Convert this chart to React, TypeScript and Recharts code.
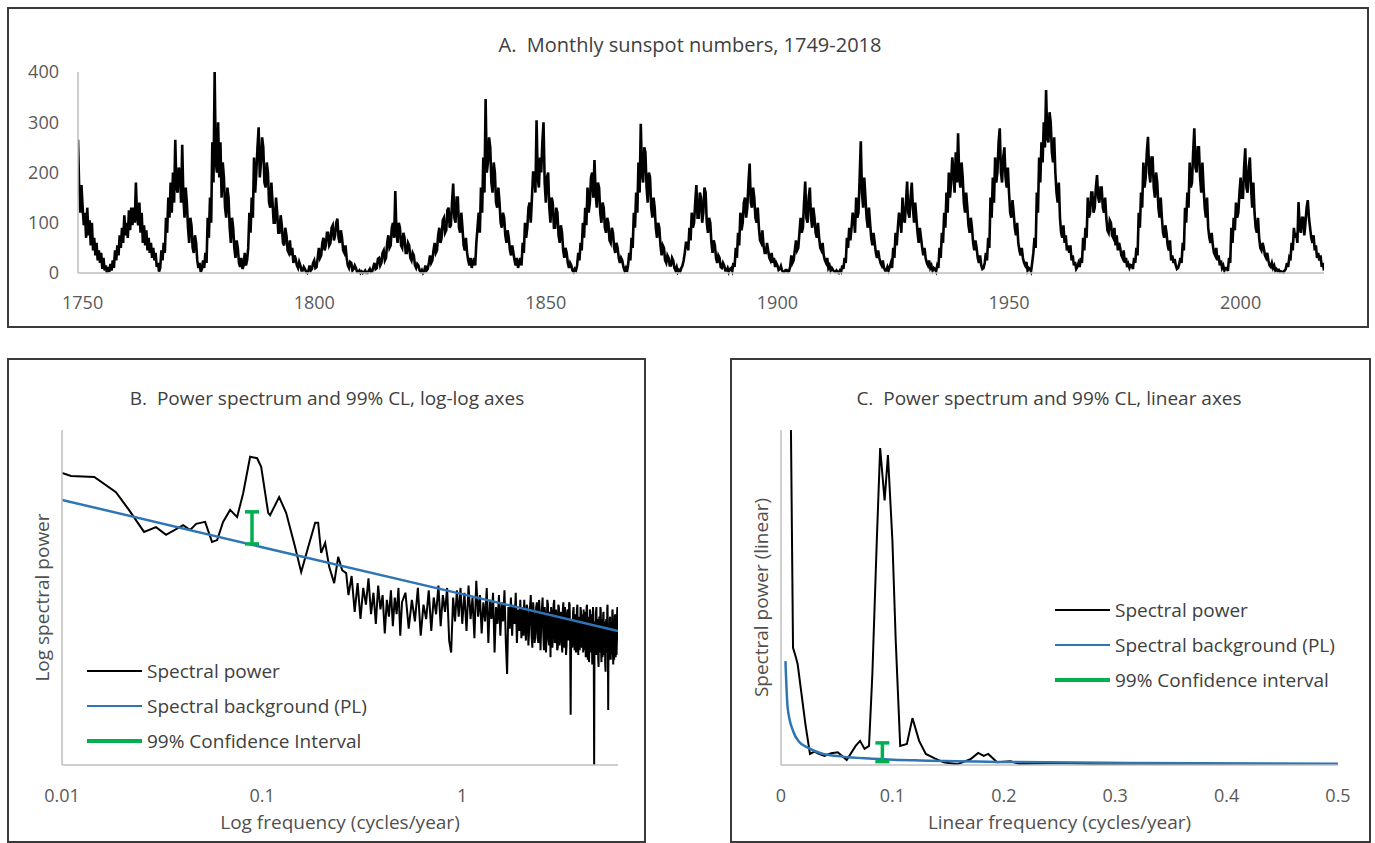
import React from 'react';
import { ComposedChart, LineChart, Line, XAxis, YAxis, Scatter, ErrorBar, Legend } from 'recharts';

// Panel A: monthly sunspot numbers, sampled every quarter year from 1749 (one row = 5 years)
const SUNSPOT_START = 1749;
const SUNSPOT_STEP = 0.25;
const sunspotRows: number[][] = [
  [265, 170, 120, 175, 130, 95, 120, 70, 130, 75, 105, 55, 100, 45, 70, 35, 60, 25, 45, 20],
  [40, 8, 30, 5, 15, 0, 12, 2, 18, 5, 25, 10, 45, 25, 55, 35, 75, 50, 90, 60],
  [115, 75, 100, 70, 125, 85, 130, 95, 130, 100, 180, 110, 95, 140, 80, 120, 60, 95, 55, 85],
  [45, 70, 40, 60, 30, 50, 25, 40, 12, 20, 3, 10, 45, 25, 60, 40, 110, 80, 150, 110],
  [180, 120, 200, 140, 265, 170, 160, 210, 200, 140, 255, 150, 110, 170, 140, 90, 60, 110, 95, 50],
  [40, 75, 60, 25, 10, 20, 2, 8, 25, 10, 40, 20, 110, 70, 150, 100, 260, 180, 400, 220],
  [200, 300, 190, 260, 150, 220, 190, 130, 110, 170, 150, 90, 60, 110, 90, 50, 30, 65, 50, 20],
  [12, 30, 8, 15, 40, 15, 25, 50, 120, 80, 150, 110, 230, 160, 200, 250, 290, 190, 220, 270],
  [250, 180, 170, 220, 200, 140, 130, 180, 140, 100, 100, 150, 120, 80, 80, 115, 95, 60, 55, 90],
  [75, 45, 40, 65, 35, 50, 20, 35, 28, 15, 10, 22, 15, 5, 5, 12, 8, 2, 0, 5],
  [15, 5, 8, 20, 25, 10, 12, 30, 50, 30, 35, 60, 70, 45, 55, 80, 80, 55, 60, 90],
  [95, 65, 75, 100, 108, 70, 60, 85, 70, 45, 40, 55, 30, 15, 10, 22, 20, 5, 8, 15],
  [10, 2, 2, 5, 0, 3, 0, 2, 5, 0, 0, 4, 8, 2, 3, 12, 20, 8, 10, 28],
  [30, 15, 20, 40, 45, 25, 30, 60, 75, 50, 55, 90, 100, 70, 163, 80, 60, 100, 90, 55],
  [50, 80, 70, 40, 40, 60, 55, 30, 25, 40, 35, 15, 10, 18, 15, 5, 2, 6, 0, 3],
  [15, 5, 8, 20, 35, 20, 25, 45, 60, 40, 45, 75, 90, 60, 70, 105, 110, 80, 85, 125],
  [130, 90, 95, 140, 178, 110, 100, 150, 150, 90, 80, 120, 90, 55, 45, 70, 40, 25, 15, 30],
  [10, 20, 30, 15, 60, 90, 120, 80, 170, 120, 230, 160, 346, 200, 220, 270, 250, 180, 160, 220],
  [200, 140, 130, 170, 140, 100, 90, 120, 110, 75, 60, 85, 70, 45, 35, 55, 40, 25, 15, 30],
  [10, 20, 30, 15, 60, 40, 100, 70, 90, 130, 140, 100, 150, 200, 200, 160, 304, 190, 170, 230],
  [200, 260, 300, 180, 140, 190, 200, 130, 100, 150, 140, 90, 90, 130, 120, 75, 60, 95, 80, 45],
  [30, 50, 40, 20, 10, 20, 15, 5, 2, 8, 5, 15, 40, 25, 60, 45, 100, 70, 130, 95],
  [170, 120, 140, 190, 200, 150, 225, 160, 130, 180, 170, 120, 100, 140, 130, 90, 80, 110, 100, 65],
  [60, 90, 80, 50, 40, 60, 50, 30, 20, 30, 25, 12, 5, 10, 2, 15, 40, 25, 70, 50],
  [120, 90, 160, 120, 220, 160, 297, 200, 180, 250, 240, 170, 140, 200, 190, 130, 110, 150, 130, 90],
  [70, 100, 90, 55, 35, 55, 50, 25, 20, 35, 30, 15, 15, 30, 25, 10, 5, 12, 2, 6],
  [3, 10, 15, 25, 40, 60, 60, 45, 90, 65, 120, 90, 100, 140, 175, 110, 110, 160, 150, 100],
  [120, 170, 160, 100, 80, 110, 100, 60, 40, 65, 55, 30, 20, 35, 30, 12, 10, 20, 15, 5],
  [5, 10, 2, 8, 10, 4, 20, 12, 50, 30, 80, 55, 120, 85, 100, 140, 150, 110, 130, 180],
  [218, 140, 130, 170, 150, 110, 100, 130, 90, 65, 60, 85, 55, 40, 40, 60, 45, 30, 25, 40],
  [20, 30, 12, 20, 15, 6, 8, 14, 5, 2, 2, 6, 6, 2, 4, 12, 35, 20, 25, 45],
  [65, 45, 50, 80, 110, 80, 90, 140, 182, 110, 100, 150, 170, 110, 90, 130, 110, 80, 70, 100],
  [70, 50, 45, 60, 35, 25, 20, 30, 10, 15, 5, 10, 6, 3, 2, 5, 2, 0, 5, 2],
  [15, 8, 30, 20, 70, 50, 90, 65, 90, 120, 110, 80, 150, 110, 120, 190, 262, 160, 130, 190],
  [150, 110, 90, 130, 100, 70, 55, 80, 60, 40, 30, 45, 30, 20, 15, 25, 10, 5, 5, 12],
  [5, 12, 20, 10, 50, 30, 80, 55, 90, 120, 110, 80, 150, 110, 100, 140, 182, 120, 110, 150],
  [180, 130, 100, 140, 110, 80, 60, 90, 70, 50, 35, 50, 30, 20, 15, 25, 10, 15, 5, 10],
  [8, 3, 15, 10, 50, 30, 80, 60, 120, 90, 160, 120, 200, 150, 180, 230, 200, 160, 240, 180],
  [278, 190, 170, 220, 190, 140, 120, 160, 130, 95, 80, 110, 90, 60, 45, 65, 50, 30, 20, 35],
  [15, 8, 10, 20, 40, 25, 70, 50, 150, 110, 190, 140, 230, 180, 200, 260, 288, 200, 180, 230],
  [250, 190, 170, 210, 160, 120, 110, 145, 120, 90, 75, 100, 60, 45, 35, 50, 30, 20, 15, 22],
  [5, 10, 8, 3, 20, 40, 70, 50, 160, 120, 230, 180, 260, 220, 300, 250, 364, 270, 260, 320],
  [300, 240, 220, 270, 200, 160, 140, 180, 110, 80, 70, 95, 60, 75, 45, 55, 40, 55, 25, 35],
  [15, 22, 8, 12, 20, 12, 30, 20, 70, 45, 90, 70, 150, 110, 120, 160, 160, 120, 130, 170],
  [195, 150, 140, 170, 170, 130, 120, 150, 110, 85, 80, 105, 100, 75, 70, 90, 55, 75, 45, 60],
  [50, 35, 30, 45, 20, 30, 12, 18, 10, 16, 15, 8, 30, 20, 50, 35, 120, 90, 160, 130],
  [220, 170, 190, 240, 271, 200, 180, 230, 230, 170, 150, 200, 180, 130, 110, 150, 110, 80, 70, 95],
  [80, 55, 45, 65, 25, 35, 20, 28, 15, 8, 10, 18, 30, 20, 60, 45, 130, 100, 160, 130],
  [220, 170, 180, 240, 288, 210, 200, 250, 250, 190, 160, 220, 170, 130, 110, 150, 90, 70, 60, 80],
  [55, 40, 35, 50, 25, 35, 15, 25, 10, 15, 5, 10, 10, 4, 30, 20, 90, 60, 110, 85],
  [140, 110, 120, 160, 190, 150, 150, 210, 248, 170, 160, 210, 230, 170, 130, 180, 120, 90, 80, 110],
  [70, 50, 45, 60, 50, 35, 30, 40, 25, 15, 12, 20, 10, 15, 5, 8, 4, 6, 2, 3],
  [2, 1, 5, 8, 20, 12, 30, 25, 60, 45, 90, 70, 80, 60, 141, 90, 80, 110, 110, 75],
  [100, 130, 145, 110, 90, 70, 60, 75, 45, 55, 30, 40, 25, 35, 12, 20, 5],
];
const sunspotXTicks = [1750, 1800, 1850, 1900, 1950, 2000];
const sunspotYTicks = [0, 100, 200, 300, 400];

// Panel B: [frequency (cycles/yr), log power]
const logSpectrum: [number, number][] = [
  [0.01, 6.1], [0.0111, 6.04], [0.0145, 6.02], [0.0186, 5.7], [0.0216, 5.33], [0.0257, 4.87],
  [0.0295, 4.97], [0.0331, 4.81], [0.0403, 5.01], [0.0437, 4.91], [0.0468, 5.04], [0.0519, 5.08],
  [0.0562, 4.66], [0.0596, 4.7], [0.0638, 5.08], [0.0692, 5.33], [0.075, 5.18], [0.0804, 5.68],
  [0.0871, 6.44], [0.0944, 6.41], [0.0989, 6.23], [0.1072, 5.27], [0.1096, 5.22], [0.1216, 5.6],
  [0.1318, 5.27], [0.1462, 4.55], [0.1567, 4.03], [0.1698, 4.55], [0.1841, 5.06], [0.1905, 5.06],
  [0.1972, 4.43], [0.2065, 4.64], [0.2163, 4.14], [0.2291, 3.8], [0.2399, 4.35], [0.2512, 4.07],
  [0.263, 4.01],
  [0.27, 3.55], [0.28, 3.95], [0.29, 3.2], [0.3, 3.8], [0.31, 3.05], [0.32, 3.7], [0.33, 3.35],
  [0.34, 3.9], [0.35, 3.15], [0.36, 3.6], [0.37, 2.95], [0.38, 3.75], [0.39, 3.25], [0.4, 3.55],
  [0.41, 2.75], [0.42, 3.45], [0.43, 3.1], [0.44, 3.65], [0.45, 2.9], [0.46, 3.5], [0.47, 3.15],
  [0.48, 3.7], [0.49, 2.7], [0.5, 3.4],
  [0.52, 3.6], [0.54, 2.85], [0.56, 3.45], [0.58, 3.0], [0.6, 3.7], [0.62, 2.7], [0.64, 3.35],
  [0.66, 3.05], [0.68, 3.65], [0.7, 2.8], [0.72, 3.5], [0.74, 3.15], [0.76, 3.75], [0.78, 2.9],
  [0.8, 3.55], [0.82, 3.2], [0.84, 3.7], [0.86, 2.6], [0.88, 2.35], [0.9, 3.5], [0.92, 3.0],
  [0.94, 3.65], [0.96, 3.1], [0.98, 3.7], [1.0, 2.95],
  [1.025, 3.6], [1.05, 2.8], [1.075, 3.75], [1.1, 3.05], [1.125, 3.5], [1.15, 2.65], [1.175, 3.85],
  [1.2, 3.1], [1.225, 3.55], [1.25, 2.75], [1.275, 3.4], [1.3, 3.0], [1.325, 3.7], [1.35, 2.55],
  [1.375, 3.45], [1.4, 3.05], [1.425, 3.6], [1.45, 2.35], [1.475, 3.3], [1.5, 2.95], [1.525, 3.55],
  [1.55, 2.7], [1.575, 3.4], [1.6, 3.0], [1.625, 3.65], [1.65, 2.6], [1.675, 1.9], [1.7, 3.3],
  [1.725, 2.85], [1.75, 3.5], [1.775, 2.7], [1.8, 3.35], [1.825, 2.95], [1.85, 3.6], [1.875, 2.55],
  [1.9, 3.25], [1.925, 2.8], [1.95, 3.45], [1.975, 2.65], [2.0, 3.3],
  [2.02, 2.7], [2.04, 3.45], [2.06, 2.9], [2.08, 2.6], [2.1, 3.35], [2.12, 3.25], [2.14, 2.5],
  [2.16, 2.85], [2.18, 3.3], [2.2, 3.55], [2.22, 2.7], [2.24, 2.45], [2.26, 3.4], [2.28, 3.15],
  [2.3, 2.55], [2.32, 2.75], [2.34, 3.3], [2.36, 3.4], [2.38, 2.65], [2.4, 2.55], [2.42, 3.45],
  [2.44, 3.2], [2.46, 2.4], [2.48, 2.9], [2.5, 3.25], [2.52, 3.5], [2.54, 2.75], [2.56, 2.4],
  [2.58, 3.3], [2.6, 3.1], [2.62, 2.35], [2.64, 2.7], [2.66, 3.45], [2.68, 3.35], [2.7, 2.6],
  [2.72, 2.5], [2.74, 3.2], [2.76, 2.25], [2.78, 3.3], [2.8, 3.15], [2.82, 2.45], [2.84, 2.8],
  [2.86, 3.35], [2.88, 3.45], [2.9, 2.55], [2.92, 2.6], [2.94, 3.25], [2.96, 3.05], [2.98, 2.4],
  [3.0, 2.45], [3.02, 3.35], [3.04, 3.3], [3.06, 2.5], [3.08, 2.75], [3.1, 3.2], [3.12, 3.1],
  [3.14, 2.55], [3.16, 2.35], [3.18, 3.25], [3.2, 3.4], [3.22, 2.45], [3.24, 2.65], [3.26, 3.3],
  [3.28, 3.0], [3.3, 2.3], [3.32, 2.5], [3.34, 3.15], [3.36, 3.25], [3.38, 2.6], [3.4, 2.8],
  [3.42, 3.4], [3.44, 3.35], [3.46, 2.55], [3.48, 1.05], [3.5, 2.9], [3.52, 3.05], [3.54, 2.45],
  [3.56, 2.55], [3.58, 3.2], [3.6, 3.3], [3.62, 2.65], [3.64, 2.4], [3.66, 3.15], [3.68, 3.0],
  [3.7, 2.35], [3.72, 2.7], [3.74, 3.25], [3.76, 3.35], [3.78, 2.5], [3.8, 2.3], [3.82, 3.1],
  [3.84, 3.05], [3.86, 2.4], [3.88, 2.6], [3.9, 3.3], [3.92, 3.2], [3.94, 2.55], [3.96, 2.45],
  [3.98, 3.15], [4.0, 2.95],
  [4.02, 2.35], [4.04, 3.25], [4.06, 2.75], [4.08, 2.4], [4.1, 3.2], [4.12, 3.05], [4.14, 2.25],
  [4.16, 2.65], [4.18, 3.3], [4.2, 3.35], [4.22, 2.5], [4.24, 2.2], [4.26, 3.1], [4.28, 2.95],
  [4.3, 2.15], [4.32, 2.55], [4.34, 3.25], [4.36, 3.2], [4.38, 2.45], [4.4, 2.35], [4.42, 3.15],
  [4.44, 2.9], [4.46, 2.1], [4.48, 2.6], [4.5, 3.3], [4.52, 3.15], [4.54, 2.4], [4.56, 0.0],
  [4.58, 2.85], [4.6, 3.0], [4.62, 2.3], [4.64, 2.45], [4.66, 3.2], [4.68, 3.3], [4.7, 2.55],
  [4.72, 2.3], [4.74, 3.05], [4.76, 2.85], [4.78, 2.2], [4.8, 2.05], [4.82, 2.95], [4.84, 3.1],
  [4.86, 2.35], [4.88, 2.5], [4.9, 3.3], [4.92, 3.25], [4.94, 2.4], [4.96, 2.15], [4.98, 3.05],
  [5.0, 2.9], [5.02, 2.25], [5.04, 2.4], [5.06, 3.15], [5.08, 3.2], [5.1, 2.45], [5.12, 2.3],
  [5.14, 3.0], [5.16, 2.75], [5.18, 2.1], [5.2, 1.95], [5.22, 2.9], [5.24, 3.05], [5.26, 2.35],
  [5.28, 2.45], [5.3, 3.25], [5.32, 3.35], [5.34, 2.5], [5.36, 1.15], [5.38, 2.7], [5.4, 2.85],
  [5.42, 2.2], [5.44, 2.35], [5.46, 3.05], [5.48, 3.1], [5.5, 2.4], [5.52, 2.2], [5.54, 3.0],
  [5.56, 2.95], [5.58, 2.3], [5.6, 2.5], [5.62, 3.2], [5.64, 3.25], [5.66, 2.35], [5.68, 2.1],
  [5.7, 2.95], [5.72, 2.8], [5.74, 2.2], [5.76, 2.4], [5.78, 3.1], [5.8, 3.15], [5.82, 2.45],
  [5.84, 2.25], [5.86, 3.0], [5.88, 2.9], [5.9, 2.3], [5.92, 2.55], [5.94, 3.2], [5.96, 3.3],
  [5.98, 2.6], [6.0, 2.7],
];
const logBackground: [number, number][] = [[0.01, 5.54], [0.1, 4.55], [1, 3.57], [6, 2.8]];
const logCI = { freq: 0.089, low: 4.62, high: 5.29 };
const logTicks = [0.01, 0.1, 1];

// Panel C: [frequency (cycles/yr), power]
const linSpectrum: [number, number][] = [
  [0.0072, 160], [0.0108, 35], [0.0135, 32], [0.015, 30], [0.022, 12], [0.026, 3.3], [0.03, 4.0],
  [0.034, 3.3], [0.039, 2.7], [0.045, 3.5], [0.051, 3.8], [0.059, 1.5], [0.067, 5.7], [0.071, 7.2],
  [0.075, 4.8], [0.079, 5.7], [0.082, 27], [0.086, 67], [0.089, 94.6], [0.093, 79], [0.096, 92.5],
  [0.1, 67], [0.103, 37], [0.107, 5.7], [0.113, 6.3], [0.118, 14], [0.124, 7.2], [0.13, 3.3],
  [0.138, 2.0], [0.146, 0.8], [0.158, 0.2], [0.17, 1.7], [0.177, 3.6], [0.182, 2.7], [0.186, 3.3],
  [0.194, 0.8], [0.206, 1.1], [0.214, 0.3], [0.25, 0.6], [0.3, 0.1], [0.35, 0.3], [0.4, 0.1],
  [0.45, 0.2], [0.5, 0.1],
];
const linBackground: [number, number][] = [
  [0.004, 31], [0.006, 17], [0.011, 10], [0.016, 7], [0.024, 5.2], [0.035, 3.6], [0.055, 2.5],
  [0.082, 1.9], [0.12, 1.4], [0.2, 0.9], [0.314, 0.6], [0.5, 0.4],
];
const linCI = { freq: 0.091, low: 1.0, high: 6.6 };
const linTicks = [0, 0.1, 0.2, 0.3, 0.4, 0.5];

const legendLabelsB = ['Spectral power', 'Spectral background (PL)', '99% Confidence Interval'];
const legendLabelsC = ['Spectral power', 'Spectral background (PL)', '99% Confidence interval'];

const FONT = "'Open Sans', sans-serif";
const AXIS_GRAY = '#bfbfbf';
const TEXT_GRAY = '#595959';
const BLUE = '#2e75b6';
const GREEN = '#00b050';
const legendStyles = [
  { color: '#000000', width: 2 },
  { color: BLUE, width: 2.5 },
  { color: GREEN, width: 4 },
];

const sunspotData = sunspotRows.flat().map((v, i) => ({ year: SUNSPOT_START + i * SUNSPOT_STEP, v }));
const toPoints = (rows: [number, number][]) => rows.map(([f, v]) => ({ f, v }));
const toCI = (ci: { freq: number; low: number; high: number }) => [
  { f: ci.freq, v: ci.low, err: [0, ci.high - ci.low] },
];

const tickStyle = { fontSize: 18, fill: TEXT_GRAY, fontFamily: FONT };
const labelStyle = { fontSize: 19, fill: '#505050', fontFamily: FONT };

const SpectrumLegend = ({ labels }: { labels: string[] }) => (
  <div style={{ fontFamily: FONT, fontSize: 19, color: '#404040', whiteSpace: 'nowrap' }}>
    {labels.map((label, i) => (
      <div key={label} style={{ display: 'flex', alignItems: 'center', height: 35 }}>
        <span
          style={{
            display: 'inline-block',
            width: 55,
            borderTop: `${legendStyles[i].width}px solid ${legendStyles[i].color}`,
            marginRight: 5,
          }}
        />
        <span>{label}</span>
      </div>
    ))}
  </div>
);

const boxStyle = (left: number, top: number, width: number, height: number): React.CSSProperties => ({
  position: 'absolute',
  left,
  top,
  width,
  height,
  border: '2px solid #3a3a3a',
  boxSizing: 'border-box',
});

const titleStyle = (cx: number, cy: number, size: number): React.CSSProperties => ({
  position: 'absolute',
  left: cx - 300,
  top: cy - 13,
  width: 600,
  lineHeight: '26px',
  textAlign: 'center',
  fontSize: size,
  color: '#404040',
  fontFamily: FONT,
  whiteSpace: 'pre',
});

const SpectrumPanel = ({
  left,
  width,
  plotLeft,
  plotRight,
  xScale,
  xDomain,
  xTicks,
  yDomain,
  yLabel,
  yLabelDx,
  xLabel,
  spectrum,
  background,
  ci,
  legendLabels,
  legendLeft,
  legendTop,
  smoothBackground,
}: any) => (
  <div style={{ position: 'absolute', left, top: 340 }}>
    <ComposedChart width={width} height={503} margin={{ top: 90, right: plotRight, bottom: 0, left: 0 }}>
      <XAxis
        type="number"
        dataKey="f"
        scale={xScale}
        domain={xDomain}
        ticks={xTicks}
        allowDataOverflow
        height={78}
        tickLine={false}
        tickSize={0}
        tickMargin={24}
        tick={tickStyle}
        axisLine={{ stroke: AXIS_GRAY, strokeWidth: 1.5 }}
        label={{ value: xLabel, position: 'insideBottom', offset: 14, style: labelStyle }}
      />
      <YAxis
        type="number"
        domain={yDomain}
        allowDataOverflow
        width={plotLeft}
        tick={false}
        tickLine={false}
        axisLine={{ stroke: AXIS_GRAY, strokeWidth: 1.5 }}
        label={{ value: yLabel, angle: -90, position: 'center', dx: yLabelDx, style: labelStyle }}
      />
      <Line
        data={toPoints(spectrum)}
        dataKey="v"
        stroke="#000000"
        strokeWidth={2}
        dot={false}
        type="linear"
        isAnimationActive={false}
      />
      <Line
        data={toPoints(background)}
        dataKey="v"
        stroke={BLUE}
        strokeWidth={2.5}
        dot={false}
        type={smoothBackground ? 'monotone' : 'linear'}
        isAnimationActive={false}
      />
      <Scatter data={toCI(ci)} dataKey="v" shape={() => <g />} isAnimationActive={false}>
        <ErrorBar dataKey="err" direction="y" width={7} stroke={GREEN} strokeWidth={3.5} isAnimationActive={false} />
      </Scatter>
      <Legend
        layout="vertical"
        align="center"
        verticalAlign="middle"
        wrapperStyle={{ left: legendLeft, top: legendTop, width: 'auto', height: 'auto' }}
        content={() => <SpectrumLegend labels={legendLabels} />}
      />
    </ComposedChart>
  </div>
);

export default function App() {
  return (
    <div style={{ position: 'absolute', left: 0, top: 0, width: 1375, height: 843, background: '#fff', fontFamily: FONT }}>
      <div style={boxStyle(7, 7, 1362, 321)} />
      <div style={boxStyle(7, 358, 639, 485)} />
      <div style={boxStyle(730, 358, 641, 485)} />

      <div style={titleStyle(690, 45, 20)}>{'A.  Monthly sunspot numbers, 1749-2018'}</div>
      <div style={titleStyle(327, 398, 19)}>{'B.  Power spectrum and 99% CL, log-log axes'}</div>
      <div style={titleStyle(1049, 398, 19)}>{'C.  Power spectrum and 99% CL, linear axes'}</div>

      <div style={{ position: 'absolute', left: 0, top: 0 }}>
        <LineChart width={1375} height={330} data={sunspotData} margin={{ top: 72, right: 51, bottom: 27, left: 0 }}>
          <XAxis
            type="number"
            dataKey="year"
            domain={[1749, 2018]}
            ticks={sunspotXTicks}
            allowDataOverflow
            height={30}
            tickLine={false}
            tickSize={0}
            tickMargin={23}
            tick={tickStyle}
            axisLine={{ stroke: AXIS_GRAY, strokeWidth: 1.5 }}
          />
          <YAxis
            type="number"
            domain={[0, 400]}
            ticks={sunspotYTicks}
            width={78}
            tickLine={false}
            tickSize={0}
            tickMargin={19}
            tick={tickStyle}
            axisLine={{ stroke: AXIS_GRAY, strokeWidth: 1.5 }}
          />
          <Line dataKey="v" stroke="#000000" strokeWidth={2.6} dot={false} type="linear" isAnimationActive={false} />
        </LineChart>
      </div>

      <SpectrumPanel
        left={0}
        width={700}
        plotLeft={62}
        plotRight={82}
        xScale="log"
        xDomain={[0.01, 6]}
        xTicks={logTicks}
        yDomain={[0, 7]}
        yLabel="Log spectral power"
        yLabelDx={11}
        xLabel="Log frequency (cycles/year)"
        spectrum={logSpectrum}
        background={logBackground}
        ci={logCI}
        legendLabels={legendLabelsB}
        legendLeft={87}
        legendTop={313}
        smoothBackground={false}
      />
      <SpectrumPanel
        left={700}
        width={675}
        plotLeft={81}
        plotRight={37}
        xScale="linear"
        xDomain={[0, 0.5]}
        xTicks={linTicks}
        yDomain={[0, 100]}
        yLabel="Spectral power (linear)"
        yLabelDx={21}
        xLabel="Linear frequency (cycles/year)"
        spectrum={linSpectrum}
        background={linBackground}
        ci={linCI}
        legendLabels={legendLabelsC}
        legendLeft={355}
        legendTop={252}
        smoothBackground
      />
    </div>
  );
}
